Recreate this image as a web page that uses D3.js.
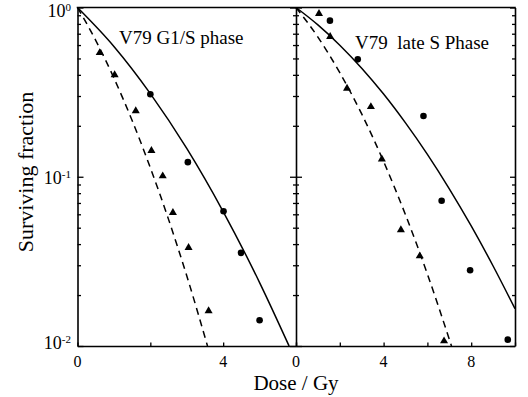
<!DOCTYPE html>
<html>
<head>
<meta charset="utf-8">
<script src="https://d3js.org/d3.v7.min.js"></script>
<style>
  html, body { margin: 0; padding: 0; background: #fff; }
  svg { display: block; }
  svg text { font-family: "Liberation Serif", "Times New Roman", serif; }
</style>
</head>
<body>
<svg id="canvas"></svg>
<script>
"use strict"

// Canvas size
const canvasWidth = 528;
const canvasHeight = 397;
const serif = "Liberation Serif, Times New Roman, serif";

// Panel titles
const panelTitles = ["V79 G1/S phase", "V79  late S Phase"];

// Dose axis ticks (Gy)
const leftDoseTicks = [0, 2, 4, 6];
const leftDoseLabels = [0, 4];
const rightDoseTicks = [0, 2, 4, 6, 8, 10];
const rightDoseLabels = [0, 4, 8];

// Surviving fraction decade labels
const decadeValues = [1, 0.1, 0.01];
const decadeExponents = ["0", "-1", "-2"];

// G1/S phase: measured points (dose, surviving fraction)
const leftCircleDose = [2.0, 3.03, 4.01, 4.49, 5.0];
const leftCircleSF = [0.307, 0.122, 0.0625, 0.0355, 0.0142];
const leftTriangleDose = [0.61, 1.02, 1.6, 2.03, 2.34, 2.62, 3.05, 3.6];
const leftTriangleSF = [0.54, 0.40, 0.245, 0.1425, 0.101, 0.0613, 0.0381, 0.0161];

// G1/S phase: fitted curves
const leftSolidDose = [0, 1, 2, 3, 4, 5, 5.81];
const leftSolidSF = [1, 0.589, 0.31, 0.147, 0.0623, 0.0237, 0.01];
const leftDashedDose = [0, 0.5, 1, 1.5, 2, 2.5, 3, 3.57];
const leftDashedSF = [1, 0.64, 0.383, 0.215, 0.113, 0.056, 0.026, 0.01];

// late S phase: measured points
const rightCircleDose = [1.55, 2.82, 5.82, 6.65, 7.95, 9.67];
const rightCircleSF = [0.836, 0.494, 0.2285, 0.0722, 0.028, 0.0109];
const rightTriangleDose = [1.05, 1.56, 2.33, 3.42, 3.92, 4.79, 5.65, 6.76];
const rightTriangleSF = [0.92, 0.672, 0.333, 0.259, 0.127, 0.0485, 0.034, 0.0107];

// late S phase: fitted curves
const rightSolidDose = [0, 1, 2, 3, 4, 5, 6, 7, 8, 9, 10];
const rightSolidSF = [1, 0.789, 0.599, 0.438, 0.308, 0.208, 0.1356, 0.0849, 0.0512, 0.0297, 0.0166];
const rightDashedDose = [0, 1, 2, 3, 4, 5, 6, 7.1];
const rightDashedSF = [1, 0.669, 0.412, 0.235, 0.123, 0.0596, 0.0266, 0.01];

// Plot geometry
const plot = { left: 77.5, mid: 296, right: 515, top: 7.5, bottom: 346 };

const canvas = d3.select("#canvas")
    .attr("width", canvasWidth)
    .attr("height", canvasHeight);

// Scales
const y = d3.scaleLog().domain([0.01, 1]).range([plot.bottom, plot.top]);
const xLeft = d3.scaleLinear().domain([0, 6]).range([plot.left, plot.mid]);
const xRight = d3.scaleLinear().domain([0, 10]).range([plot.mid, plot.right]);

const yTicks = y.ticks();
const isDecade = v => decadeValues.some(d => Math.abs(d - v) < 1e-9);

// Style axes: thick black line, no labels
function styleAxis(g) {
    g.selectAll("text").remove();
    g.select(".domain").attr("stroke", "#000").attr("stroke-width", 1.6);
    g.selectAll(".tick line").attr("stroke", "#000").attr("stroke-width", 1.3);
}

// Left y axis, ticks inside
canvas.append("g")
    .attr("transform", `translate(${plot.left},0)`)
    .call(d3.axisRight(y).tickValues(yTicks).tickSizeOuter(0).tickSize(0))
    .call(styleAxis)
    .selectAll(".tick line")
    .attr("x2", d => isDecade(d) ? 6 : 3.5);

// Middle y axis, ticks both sides
canvas.append("g")
    .attr("transform", `translate(${plot.mid},0)`)
    .call(d3.axisRight(y).tickValues(yTicks).tickSizeOuter(0).tickSize(0))
    .call(styleAxis)
    .selectAll(".tick line")
    .attr("x1", d => isDecade(d) ? -6 : -3)
    .attr("x2", d => isDecade(d) ? 6 : 3);

// Right y axis, ticks inside
canvas.append("g")
    .attr("transform", `translate(${plot.right},0)`)
    .call(d3.axisLeft(y).tickValues(yTicks).tickSizeOuter(0).tickSize(0))
    .call(styleAxis)
    .selectAll(".tick line")
    .attr("x2", d => isDecade(d) ? -5 : -3);

// Bottom axes, ticks pointing up
canvas.append("g")
    .attr("transform", `translate(0,${plot.bottom})`)
    .call(d3.axisTop(xLeft).tickValues(leftDoseTicks).tickSize(3.5).tickSizeOuter(0))
    .call(styleAxis);
canvas.append("g")
    .attr("transform", `translate(0,${plot.bottom})`)
    .call(d3.axisTop(xRight).tickValues(rightDoseTicks).tickSize(3.5).tickSizeOuter(0))
    .call(styleAxis);

// Top frame line
canvas.append("line")
    .attr("x1", plot.left - 0.8).attr("x2", plot.right + 0.8)
    .attr("y1", plot.top).attr("y2", plot.top)
    .attr("stroke", "#000").attr("stroke-width", 1.6);

// Y tick labels with superscripts
const decadeOffsets = [9.5, 7, 3];
decadeValues.forEach((v, i) => {
    const t = canvas.append("text")
        .attr("x", 71)
        .attr("y", y(v) + decadeOffsets[i])
        .attr("text-anchor", "end")
        .attr("font-family", serif)
        .attr("font-size", 18);
    t.append("tspan").text("10");
    t.append("tspan").attr("dy", -6).attr("font-size", 11).text(decadeExponents[i]);
});

// X tick labels
canvas.selectAll(".xl-left")
    .data(leftDoseLabels)
    .enter()
    .append("text")
    .attr("x", d => xLeft(d))
    .attr("y", 367)
    .attr("text-anchor", "middle")
    .attr("font-family", serif)
    .attr("font-size", 16)
    .text(d => d);
canvas.selectAll(".xl-right")
    .data(rightDoseLabels)
    .enter()
    .append("text")
    .attr("x", d => xRight(d))
    .attr("y", 367)
    .attr("text-anchor", "middle")
    .attr("font-family", serif)
    .attr("font-size", 16)
    .text(d => d);

// Axis titles
canvas.append("text")
    .attr("x", plot.mid)
    .attr("y", 390)
    .attr("text-anchor", "middle")
    .attr("font-family", serif)
    .attr("font-size", 21)
    .text("Dose / Gy");
canvas.append("text")
    .attr("transform", `translate(33,172) rotate(-90)`)
    .attr("text-anchor", "middle")
    .attr("font-family", serif)
    .attr("font-size", 22)
    .text("Surviving fraction");

// Panel titles
canvas.append("text")
    .attr("x", 119).attr("y", 44)
    .attr("font-family", serif)
    .attr("font-size", 19)
    .text(panelTitles[0]);
canvas.append("text")
    .attr("x", 355).attr("y", 49)
    .attr("font-family", serif)
    .attr("font-size", 19)
    .style("white-space", "pre")
    .attr("xml:space", "preserve")
    .text(panelTitles[1]);

// Curves
function drawCurve(x, doses, sf, dashed) {
    const line = d3.line()
        .x(d => x(d[0]))
        .y(d => y(d[1]))
        .curve(d3.curveMonotoneX);
    canvas.append("path")
        .datum(d3.zip(doses, sf))
        .attr("fill", "none")
        .attr("stroke", "#000")
        .attr("stroke-width", 1.5)
        .attr("stroke-dasharray", dashed ? "7,5" : null)
        .attr("d", line);
}
drawCurve(xLeft, leftSolidDose, leftSolidSF, false);
drawCurve(xLeft, leftDashedDose, leftDashedSF, true);
drawCurve(xRight, rightSolidDose, rightSolidSF, false);
drawCurve(xRight, rightDashedDose, rightDashedSF, true);

// Markers
function drawCircles(x, doses, sf) {
    canvas.append("g").selectAll("circle")
        .data(d3.zip(doses, sf))
        .enter()
        .append("circle")
        .attr("cx", d => x(d[0]))
        .attr("cy", d => y(d[1]))
        .attr("r", 3.3)
        .attr("fill", "#000");
}
function drawTriangles(x, doses, sf) {
    const tri = d3.symbol().type(d3.symbolTriangle).size(28);
    canvas.append("g").selectAll("path")
        .data(d3.zip(doses, sf))
        .enter()
        .append("path")
        .attr("d", tri)
        .attr("transform", d => `translate(${x(d[0])},${y(d[1])})`)
        .attr("fill", "#000");
}
drawCircles(xLeft, leftCircleDose, leftCircleSF);
drawTriangles(xLeft, leftTriangleDose, leftTriangleSF);
drawCircles(xRight, rightCircleDose, rightCircleSF);
drawTriangles(xRight, rightTriangleDose, rightTriangleSF);
</script>
</body>
</html>
